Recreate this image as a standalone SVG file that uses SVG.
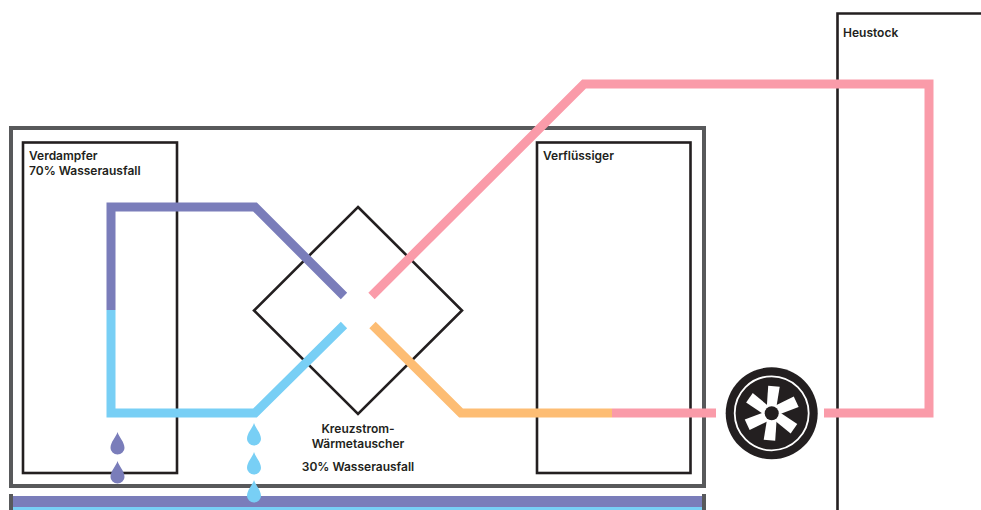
<svg xmlns="http://www.w3.org/2000/svg" width="981" height="510" viewBox="0 0 981 510">
<style>
.box{fill:none;stroke:#231f20;stroke-width:2.6}
.outer{fill:none;stroke:#58595b;stroke-width:4}
.pipe{fill:none;stroke-width:9;stroke-linejoin:miter;stroke-linecap:butt}
.purple{stroke:#7a7dba}.blue{stroke:#78cff5}.orange{stroke:#fdbd74}.pink{stroke:#fa9ba9}
text{font-family:"Inter","Open Sans","Liberation Sans",sans-serif;font-size:12px;font-weight:600;fill:#231f20}
.m{text-anchor:middle}
</style>
<defs>
<path id="drop" d="M0 0C1.5 5 7 10 7 16A7 6.5 0 0 1 -7 16C-7 10 -1.5 5 0 0Z"/>
<polygon id="blade" points="-3.5,-27.5 8,-26.5 4.5,-5 -5,-5" fill="#fff"/>
</defs>
<g id="outer-box">
<rect class="outer" x="11" y="128" width="693" height="358"/>
<path class="outer" d="M11 510V494M704 510V494"/>
<rect x="13" y="496" width="689" height="11" fill="#7a7dba"/>
<rect x="13" y="507" width="689" height="3" fill="#78cff5"/>
</g>
<g id="heustock"><path class="box" d="M981 13.500H837.500V510"/><text x="843" y="37">Heustock</text></g>
<g id="verdampfer"><rect class="box" x="23" y="142.500" width="154" height="330.500"/><text x="29" y="160">Verdampfer</text><text x="29" y="175">70% Wasserausfall</text></g>
<g id="verfluessiger"><rect class="box" x="537" y="142.500" width="153.500" height="330.500"/><text x="543" y="160">Verflüssiger</text></g>
<g id="waermetauscher"><polygon class="box" points="358,207 462,310.500 358,414 254,310.500"/>
<text class="m" x="358" y="433">Kreuzstrom-</text><text class="m" x="358" y="448">Wärmetauscher</text><text class="m" x="358" y="471">30% Wasserausfall</text></g>
<g id="connectors">
<path class="pipe purple" d="M111 310V207H255L344 296"/>
<path class="pipe blue" d="M111 310V413H255L344 325"/>
<path class="pipe orange" d="M372.500 325L461 413H612"/>
<path class="pipe pink" d="M612 413H716"/>
<path class="pipe pink" d="M824 413H929V84H584L371.500 296"/>
</g>
<g id="fan">
<circle cx="771.700" cy="413.300" r="46" fill="#231f20"/>
<circle cx="771.700" cy="413.300" r="37" fill="none" stroke="#fff" stroke-width="1.800"/>
<g transform="translate(771.700 413.300)">
<use href="#blade"/><use href="#blade" transform="rotate(60)"/><use href="#blade" transform="rotate(120)"/><use href="#blade" transform="rotate(180)"/><use href="#blade" transform="rotate(240)"/><use href="#blade" transform="rotate(300)"/>
</g>
<circle cx="771.700" cy="413.300" r="7" fill="#231f20"/>
</g>
<g id="drops">
<use href="#drop" x="117.500" y="432" fill="#7a7dba"/>
<use href="#drop" x="117.500" y="461" fill="#7a7dba"/>
<use href="#drop" x="254" y="423" fill="#78cff5"/>
<use href="#drop" x="254" y="452" fill="#78cff5"/>
<use href="#drop" x="254" y="480" fill="#78cff5"/>
</g>
</svg>
